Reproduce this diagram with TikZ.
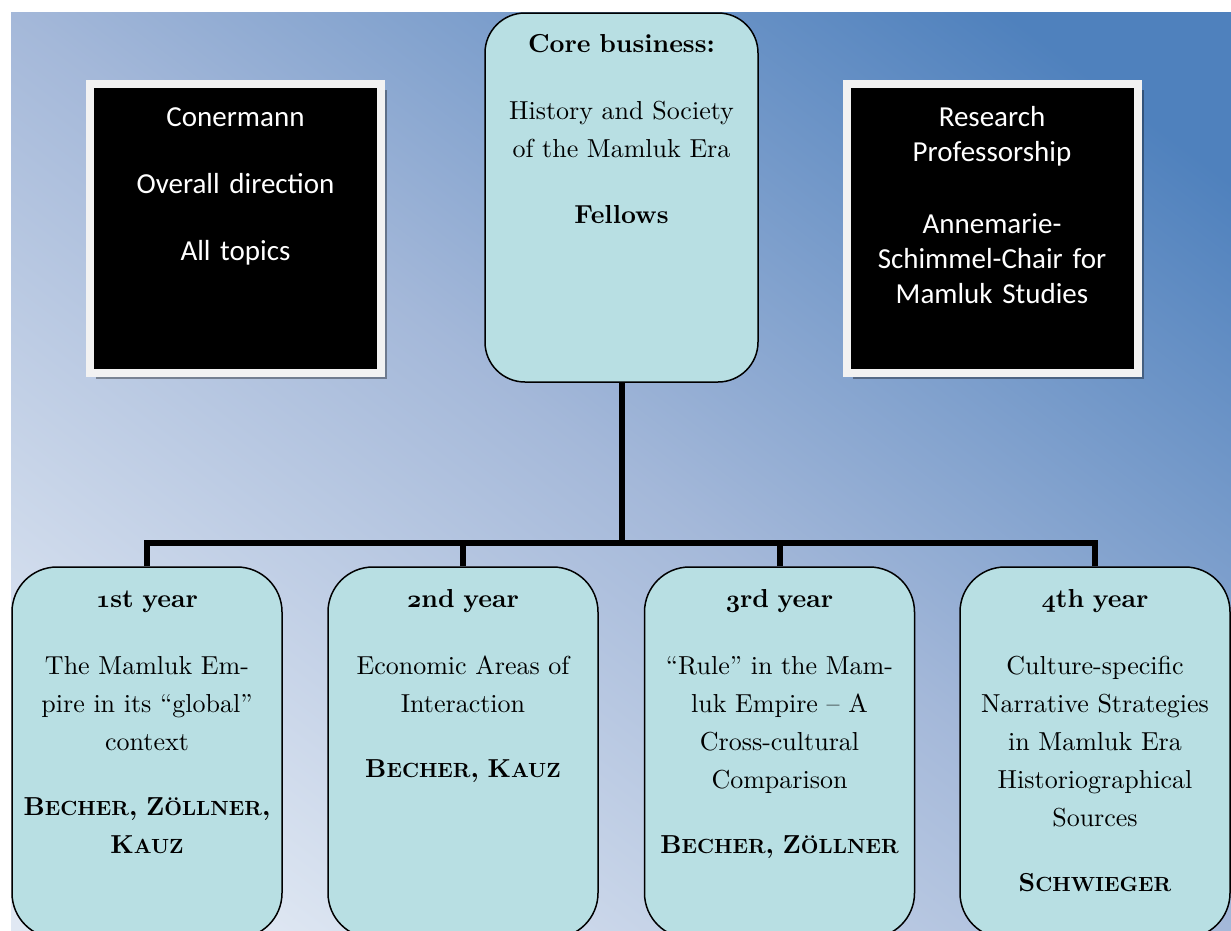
\documentclass[tikz,border=0pt]{standalone}
\usepackage{fontspec}
\setmainfont{lmroman10}[Extension=.otf, UprightFont=*-regular, BoldFont=*-bold,
  ItalicFont=*-italic, BoldItalicFont=*-bolditalic]
\newfontfamily\calibri{Carlito}
\usetikzlibrary{shadows}
\definecolor{bgdark}{RGB}{79,129,189}
\definecolor{bgmid}{RGB}{164,184,217}
\definecolor{bglight}{RGB}{224,232,243}
\definecolor{boxfill}{RGB}{184,223,227}
\definecolor{framecol}{RGB}{242,242,242}
\pgfdeclarehorizontalshading{bgshade}{100bp}{color(0bp)=(bglight); color(21bp)=(bglight);
  color(50bp)=(bgmid); color(79bp)=(bgdark); color(100bp)=(bgdark)}
\newcommand\osn[1]{{\boldmath$\mathnormal{#1}$}}
\newcommand\fsc[2]{#1{\fontsize{20.5}{38}\selectfont #2}}
\begin{document}
\begin{tikzpicture}[x=1pt,y=-1pt,
  yearbox/.style={draw=black, line width=1.5pt, fill=boxfill, rounded corners=45pt,
    minimum width=270pt, minimum height=371pt, inner sep=0pt},
  corebox/.style={yearbox, rounded corners=40pt, minimum width=273pt, minimum height=369pt},
  boxtext/.style={anchor=base, align=center, text width=262pt, inner sep=0pt,
    font=\fontsize{26}{38}\selectfont},
  blackbox/.style={fill=black, draw=framecol, line width=8pt, minimum width=291pt,
    minimum height=289pt, inner sep=0pt,
    drop shadow={shadow xshift=6pt, shadow yshift=-6pt, opacity=0.35, fill=black}},
  blacktext/.style={anchor=base, align=center, text width=270pt, text=white, inner sep=0pt,
    font=\calibri\fontsize{29}{35}\selectfont},
  conn/.style={line width=6pt, line join=miter}
]
\useasboundingbox (0,0) rectangle (1231,930);
\begin{scope}[transform canvas={xshift=11pt, yshift=-12pt, xscale=12.2, yscale=9.18}]
  \shade[shading=bgshade, shading angle=45] (0,0) rectangle (100,100);
\end{scope}

% black boxes
\node[blackbox] (lbox) at (235.5,228.5) {};
\node[blacktext] (ltxt) at ([yshift=-46pt]lbox.north)
  {Conermann\\[32pt] Overall direction\\[32pt] All topics};
\node[blackbox] (rbox) at (992,228) {};
\node[blacktext] (rtxt) at ([yshift=-47pt]rbox.north)
  {Research\\ Professorship\\[37pt] Annemarie-\\ Schimmel-Chair for\\ Mamluk Studies};

% core box
\node[corebox] (core) at (621.5,197.5) {};
\node[boxtext] (coretxt) at ([yshift=-40pt]core.north)
  {\textbf{Core business:}\\[29pt] History and Society\\ of the Mamluk Era\\[28pt] \textbf{Fellows}};

% year boxes
\node[yearbox] (y1) at (147,752.5) {};
\node[yearbox] (y2) at (463,752.5) {};
\node[yearbox] (y3) at (779.5,752.5) {};
\node[yearbox] (y4) at (1095,752.5) {};

\node[boxtext] (t1) at ([yshift=-41pt]y1.north)
  {\textbf{\osn{1}st year}\\[29pt] The Mamluk Em-\\ pire in its “global”\\ context\\[27pt]
   \textbf{\fsc{B}{ECHER}, \fsc{Z}{ÖLLNER},}\\ \textbf{\fsc{K}{AUZ}}};
\node[boxtext] (t2) at ([yshift=-41pt]y2.north)
  {\textbf{\osn{2}nd year}\\[29pt] Economic Areas of\\ Interaction\\[27pt]
   \textbf{\fsc{B}{ECHER}, \fsc{K}{AUZ}}};
\node[boxtext] (t3) at ([yshift=-41pt]y3.north)
  {\textbf{\osn{3}rd year}\\[29pt] “Rule” in the Mam-\\ luk Empire – A\\ Cross-cultural\\ Comparison\\[27pt]
   \textbf{\fsc{B}{ECHER}, \fsc{Z}{ÖLLNER}}};
\node[boxtext] (t4) at ([yshift=-41pt]y4.north)
  {\textbf{\osn{4}th year}\\[29pt] Culture-specific\\ Narrative Strategies\\ in Mamluk Era\\ Historiographical\\ Sources\\[27pt]
   \textbf{\fsc{S}{CHWIEGER}}};

% connectors
\coordinate (hub) at (621.5,543);
\draw[conn] (core.south) -- (hub);
\draw[conn] (y1.north) |- (hub);
\draw[conn] (y2.north) |- (hub);
\draw[conn] (y3.north) |- (hub);
\draw[conn] (y4.north) |- (hub);
\end{tikzpicture}
\end{document}
